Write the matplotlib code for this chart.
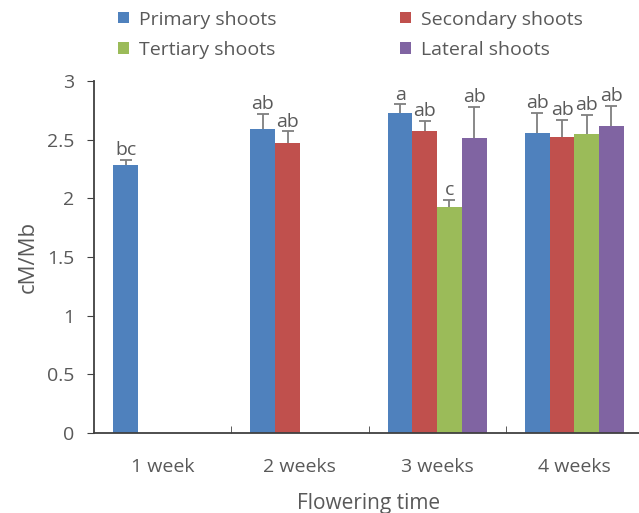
import matplotlib.pyplot as plt
import numpy as np

# -- data --
weeks = ["1 week", "2 weeks", "3 weeks", "4 weeks"]
series = ["Primary shoots", "Secondary shoots", "Tertiary shoots", "Lateral shoots"]
colors = ["#4F81BD", "#C0504D", "#9BBB59", "#8064A2"]

primary = [2.28, 2.59, 2.73, 2.56]
secondary = [np.nan, 2.47, 2.57, 2.52]
tertiary = [np.nan, np.nan, 1.93, 2.55]
lateral = [np.nan, np.nan, 2.51, 2.62]

primary_err = [0.05, 0.13, 0.07, 0.17]
secondary_err = [np.nan, 0.10, 0.09, 0.15]
tertiary_err = [np.nan, np.nan, 0.06, 0.16]
lateral_err = [np.nan, np.nan, 0.27, 0.17]

primary_lbl = ["bc", "ab", "a", "ab"]
secondary_lbl = ["", "ab", "ab", "ab"]
tertiary_lbl = ["", "", "c", "ab"]
lateral_lbl = ["", "", "ab", "ab"]

values = [primary, secondary, tertiary, lateral]
errors = [primary_err, secondary_err, tertiary_err, lateral_err]
letters = [primary_lbl, secondary_lbl, tertiary_lbl, lateral_lbl]

plt.rcParams["font.family"] = ["Open Sans", "DejaVu Sans"]
grey = "#595959"

fig = plt.figure(figsize=(6.39, 5.13), dpi=100)
ax = fig.add_axes([94 / 639, 80 / 513, 549 / 639, 352 / 513])

x = np.arange(len(weeks))
width = 0.18
handles = []
for i, (vals, errs, lbls) in enumerate(zip(values, errors, letters)):
    pos = x + (i - 1.5) * width
    vals = np.array(vals, dtype=float)
    errs = np.array(errs, dtype=float)
    h = ax.bar(pos, vals, width, color=colors[i], label=series[i], zorder=2)
    handles.append(h)
    # symmetric bars drawn below the bars so only the upper half shows
    ax.errorbar(pos, vals, yerr=errs, fmt="none", ecolor="#7f7f7f",
                elinewidth=1.3, capsize=4, capthick=1.3, zorder=1)
    for p, v, e, t in zip(pos, vals, errs, lbls):
        if t and not np.isnan(v):
            ax.text(p, v + e + 0.005, t, ha="center", va="bottom",
                    fontsize=14, color=grey)

ax.set_xlim(-0.5, 3.5)
ax.set_ylim(0, 3)
ax.set_yticks(np.arange(0, 3.01, 0.5))
ax.set_yticklabels(["0", "0.5", "1", "1.5", "2", "2.5", "3"])
ax.set_xticks(x)
ax.set_xticklabels(weeks)
ax.set_xticks([0.5, 1.5, 2.5], minor=True)
ax.tick_params(axis="x", which="major", length=0, pad=18, labelsize=14, labelcolor=grey)
ax.tick_params(axis="x", which="minor", direction="in", length=5, color="#404040")
ax.tick_params(axis="y", direction="out", length=5, color="#404040",
               labelsize=14, labelcolor=grey, pad=9)

for s in ["top", "right"]:
    ax.spines[s].set_visible(False)
for s in ["left", "bottom"]:
    ax.spines[s].set_color("#404040")
    ax.spines[s].set_linewidth(1.3)

ax.set_ylabel("cM/Mb", fontsize=16, color=grey, labelpad=6)
ax.set_xlabel("Flowering time", fontsize=15, color=grey, labelpad=12)

# row-major legend order: Primary, Secondary / Tertiary, Lateral
order = [0, 2, 1, 3]
ax.legend([handles[k] for k in order], [series[k] for k in order],
          loc="upper left", bbox_to_anchor=(0.012, 1.25), ncol=2, frameon=False,
          fontsize=14, labelcolor=grey, handlelength=0.55, handleheight=0.55,
          handletextpad=0.5, columnspacing=6.4, labelspacing=0.62)

fig.savefig("out.png", dpi=100)
